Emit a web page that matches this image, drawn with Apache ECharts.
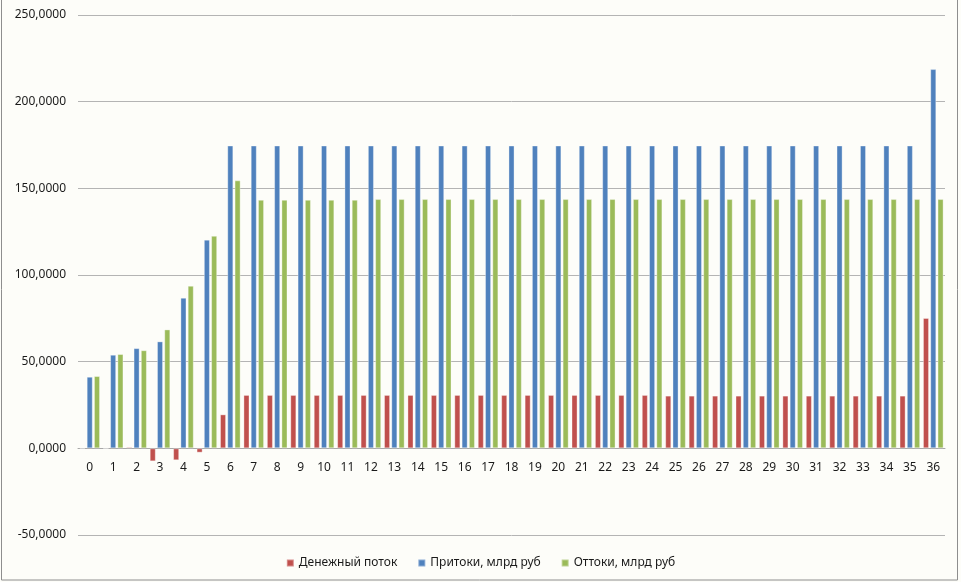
<!DOCTYPE html>
<html>
<head>
<meta charset="utf-8">
<script src="https://cdn.jsdelivr.net/npm/echarts@6/dist/echarts.min.js"></script>
<style>
html,body{margin:0;padding:0;background:#fdfdf9;}
#chart{width:961px;height:582px;}
</style>
</head>
<body>
<div id="chart"></div>
<script>
const categories = ['0','1','2','3','4','5','6','7','8','9','10','11','12','13','14','15','16','17','18','19','20','21','22','23','24','25','26','27','28','29','30','31','32','33','34','35','36'];
const cashFlow = [-0.5,-0.4,0.8,-7.5,-6.9,-2.5,19.6,30.8,30.8,30.8,30.8,30.8,30.8,30.8,30.8,30.8,30.8,30.8,30.8,30.8,30.8,30.8,30.8,30.8,30.8,30.4,30.4,30.4,30.4,30.4,30.4,30.4,30.4,30.4,30.4,30.4,75.2];
const inflows = [41.3,54.0,57.8,61.7,86.9,120.4,174.7,174.7,174.7,174.7,174.7,174.7,174.7,174.7,174.7,174.7,174.7,174.7,174.7,174.7,174.7,174.7,174.7,174.7,174.7,174.7,174.7,174.7,174.7,174.7,174.7,174.7,174.7,174.7,174.7,174.7,218.8];
const outflows = [41.7,54.4,56.6,68.6,93.8,122.6,154.6,143.4,143.4,143.4,143.4,143.4,143.8,143.8,143.8,143.8,143.8,143.8,143.8,143.8,143.8,143.8,143.8,143.8,143.8,143.8,143.8,143.8,143.8,143.8,143.8,143.8,143.8,143.8,143.8,143.8,143.8];
const seriesNames = ['Денежный поток','Притоки, млрд руб','Оттоки, млрд руб'];
const yTicks = {min:-50, max:250, interval:50};

const font = "'Noto Sans', 'DejaVu Sans', sans-serif";
const gridTop = 15, gridBottom = 47, H = 582;
const plotH = H - gridTop - gridBottom;
// shift category axis from the bottom of the grid up to the zero line
const zeroOffset = -plotH * (0 - yTicks.min) / (yTicks.max - yTicks.min);

const chart = echarts.init(document.getElementById('chart'), null, {renderer:'canvas'});
const barStyle = c => ({color:c, borderColor:'rgba(255,255,255,0.35)', borderWidth:1});
chart.setOption({
  backgroundColor:'#fdfdf9',
  animation:false,
  textStyle:{fontFamily:font},
  graphic:[{type:'rect', shape:{x:1.5,y:-1,width:956,height:581}, style:{fill:'none', stroke:'#8e8e8e', lineWidth:1}, silent:true}],
  grid:{left:78, right:16, top:gridTop, bottom:gridBottom, containLabel:false},
  legend:{
    bottom:8, left:'center', itemWidth:7, itemHeight:7, itemGap:20,
    icon:'rect',
    textStyle:{fontFamily:font, fontSize:12, color:'#1a1a1a'},
    data:seriesNames
  },
  xAxis:{
    type:'category', data:categories,
    offset: zeroOffset,
    axisLine:{onZero:false, lineStyle:{color:'#a8a8a8', width:1}},
    axisTick:{show:false},
    axisLabel:{fontFamily:font, fontSize:12, color:'#1a1a1a', margin:13, interval:0}
  },
  yAxis:{
    type:'value', min:yTicks.min, max:yTicks.max, interval:yTicks.interval,
    axisLine:{show:false}, axisTick:{show:false},
    splitLine:{lineStyle:{color:'#b4b4b4', width:1}},
    axisLabel:{fontFamily:font, fontSize:12, color:'#1a1a1a', margin:12,
      formatter: v => v.toFixed(4).replace('.', ',')}
  },
  series:[
    {name:seriesNames[0], type:'bar', data:cashFlow, itemStyle:barStyle('#c0504d'), barGap:'20%', barCategoryGap:'12%'},
    {name:seriesNames[1], type:'bar', data:inflows, itemStyle:barStyle('#4f81bd'), barGap:'20%', barCategoryGap:'12%'},
    {name:seriesNames[2], type:'bar', data:outflows, itemStyle:barStyle('#9bbb59'), barGap:'20%', barCategoryGap:'12%'}
  ]
});
</script>
</body>
</html>
